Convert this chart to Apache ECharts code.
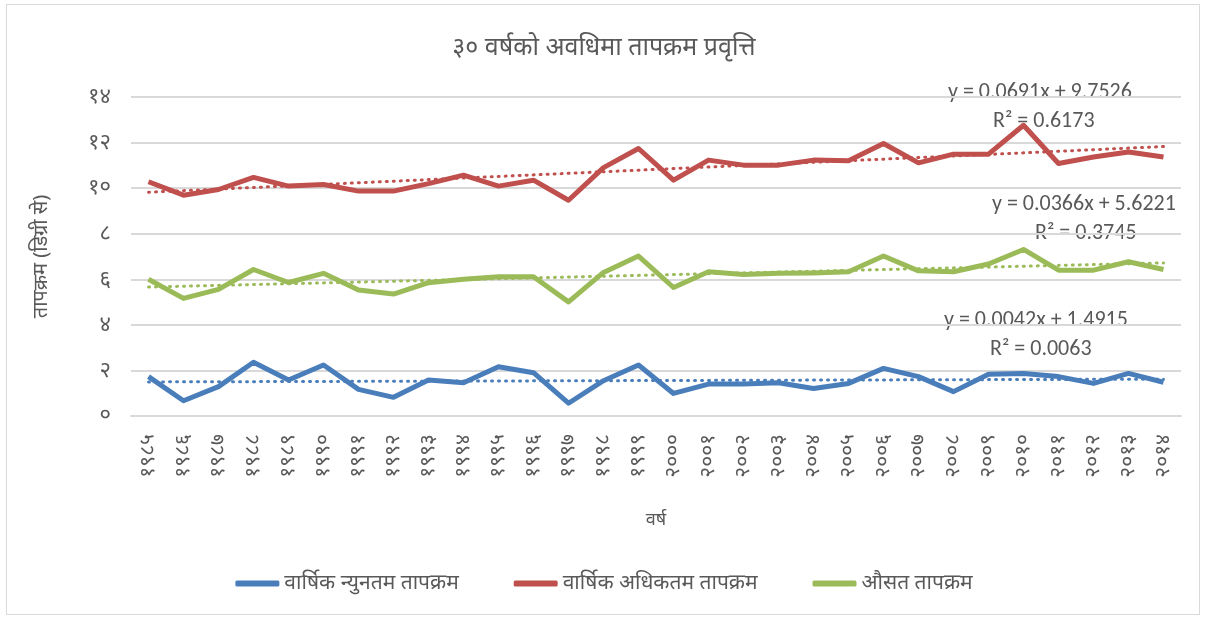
<!DOCTYPE html>
<html>
<head>
<meta charset="utf-8">
<script src="https://cdn.jsdelivr.net/npm/echarts@6/dist/echarts.min.js"></script>
<style>
  html, body { margin: 0; padding: 0; background: #fff; }
  .frame {
    position: absolute; left: 6px; top: 4px; width: 1194px; height: 611px;
    border: 1px solid #d9d9d9; box-sizing: border-box;
  }
  #chart { width: 1208px; height: 619px; }
</style>
</head>
<body>
<div class="frame"></div>
<div id="chart"></div>
<script>
// वर्ष (1985 - 2014)
const years = ['१९८५','१९८६','१९८७','१९८८','१९८९','१९९०','१९९१','१९९२','१९९३','१९९४',
  '१९९५','१९९६','१९९७','१९९८','१९९९','२०००','२००१','२००२','२००३','२००४',
  '२००५','२००६','२००७','२००८','२००९','२०१०','२०११','२०१२','२०१३','२०१४']

const minTemp = [1.73, 0.67, 1.29, 2.36, 1.58, 2.24, 1.17, 0.82, 1.58, 1.46,
  2.16, 1.9, 0.56, 1.55, 2.24, 0.99, 1.4, 1.4, 1.46, 1.21,
  1.43, 2.09, 1.73, 1.07, 1.83, 1.87, 1.73, 1.43, 1.87, 1.48]

const maxTemp = [10.28, 9.69, 9.94, 10.47, 10.09, 10.16, 9.87, 9.87, 10.2, 10.57,
  10.09, 10.35, 9.47, 10.9, 11.74, 10.35, 11.23, 11.01, 11.01, 11.23,
  11.2, 11.96, 11.11, 11.49, 11.49, 12.76, 11.08, 11.37, 11.59, 11.37]

const avgTemp = [6.0, 5.16, 5.56, 6.43, 5.86, 6.26, 5.53, 5.35, 5.85, 6.0,
  6.11, 6.11, 5.01, 6.3, 7.02, 5.64, 6.33, 6.21, 6.26, 6.28,
  6.33, 7.02, 6.37, 6.33, 6.67, 7.31, 6.4, 6.4, 6.77, 6.43]

// ट्रेन्डलाइन: [slope, intercept] (चित्रमा देखाइएको समीकरण)
const minTrend = [0.0042, 1.4915]
const maxTrend = [0.0691, 9.7526]
const avgTrend = [0.0366, 5.6221]

const yTickLabels = ['०','२','४','६','८','१०','१२','१४']

const seriesNames = ['वार्षिक न्युनतम तापक्रम', 'वार्षिक अधिकतम तापक्रम', 'औसत तापक्रम']

const textColor = '#595959'
const font = 'Noto Sans, sans-serif'

const trendLine = (coef, color) => {
  const n = years.length
  return {
    silent: true,
    symbol: ['none', 'none'],
    label: { show: false },
    lineStyle: { color: color, width: 3, type: [1, 6], cap: 'round' },
    data: [[
      { coord: [0, coef[1] + coef[0] * 1] },
      { coord: [n - 1, coef[1] + coef[0] * n] }
    ]]
  }
}

const makeSeries = (name, data, color, coef) => ({
  name: name,
  type: 'line',
  data: data,
  symbol: 'none',
  lineStyle: { color: color, width: 5, join: 'round' },
  itemStyle: { color: color },
  z: 3,
  markLine: trendLine(coef, color)
})

const eqText = (x, y, text) => ({
  type: 'text',
  left: x, top: y,
  style: { text: text, fill: textColor, font: '22px Calibri, "Liberation Sans", sans-serif' }
})

const chart = echarts.init(document.getElementById('chart'))

chart.setOption({
  animation: false,
  title: {
    text: '३० वर्षको अवधिमा तापक्रम प्रवृत्ति',
    left: 'center',
    top: 30,
    textStyle: { color: textColor, fontSize: 25, fontWeight: 'normal', fontFamily: font }
  },
  legend: {
    bottom: 20,
    left: 'center',
    itemWidth: 44,
    itemHeight: 6,
    itemGap: 55,
    icon: 'roundRect',
    textStyle: { color: textColor, fontSize: 21, fontFamily: font },
    data: seriesNames
  },
  grid: { left: 131, right: 27, top: 97, bottom: 203 },
  xAxis: {
    type: 'category',
    data: years,
    name: 'वर्ष',
    nameLocation: 'middle',
    nameGap: 95,
    nameTextStyle: { color: textColor, fontSize: 18, fontFamily: font },
    axisLine: { lineStyle: { color: '#d9d9d9', width: 2 } },
    axisTick: { show: false },
    axisLabel: { rotate: 90, color: textColor, fontSize: 21, fontFamily: font, margin: 18 }
  },
  yAxis: {
    type: 'value',
    min: 0, max: 14, interval: 2,
    name: 'तापक्रम (डिग्री से)',
    nameLocation: 'middle',
    nameGap: 80,
    nameRotate: 90,
    nameTextStyle: { color: textColor, fontSize: 20, fontFamily: font },
    axisLine: { show: false },
    axisTick: { show: false },
    splitLine: { lineStyle: { color: '#d9d9d9', width: 2 } },
    axisLabel: {
      color: textColor, fontSize: 22, fontFamily: font, margin: 20,
      formatter: v => yTickLabels[v / 2]
    }
  },
  series: [
    makeSeries(seriesNames[0], minTemp, '#4a7ebb', minTrend),
    makeSeries(seriesNames[1], maxTemp, '#c0504d', maxTrend),
    makeSeries(seriesNames[2], avgTemp, '#9bbb59', avgTrend)
  ],
  graphic: [
    eqText(948, 81, 'y = 0.0691x + 9.7526'),
    eqText(993, 110, 'R² = 0.6173'),
    eqText(992, 193, 'y = 0.0366x + 5.6221'),
    eqText(1035, 222, 'R² = 0.3745'),
    eqText(944, 309, 'y = 0.0042x + 1.4915'),
    eqText(990, 338, 'R² = 0.0063')
  ]
})

window.addEventListener('resize', () => {
  chart && chart.resize()
})
</script>
</body>
</html>
